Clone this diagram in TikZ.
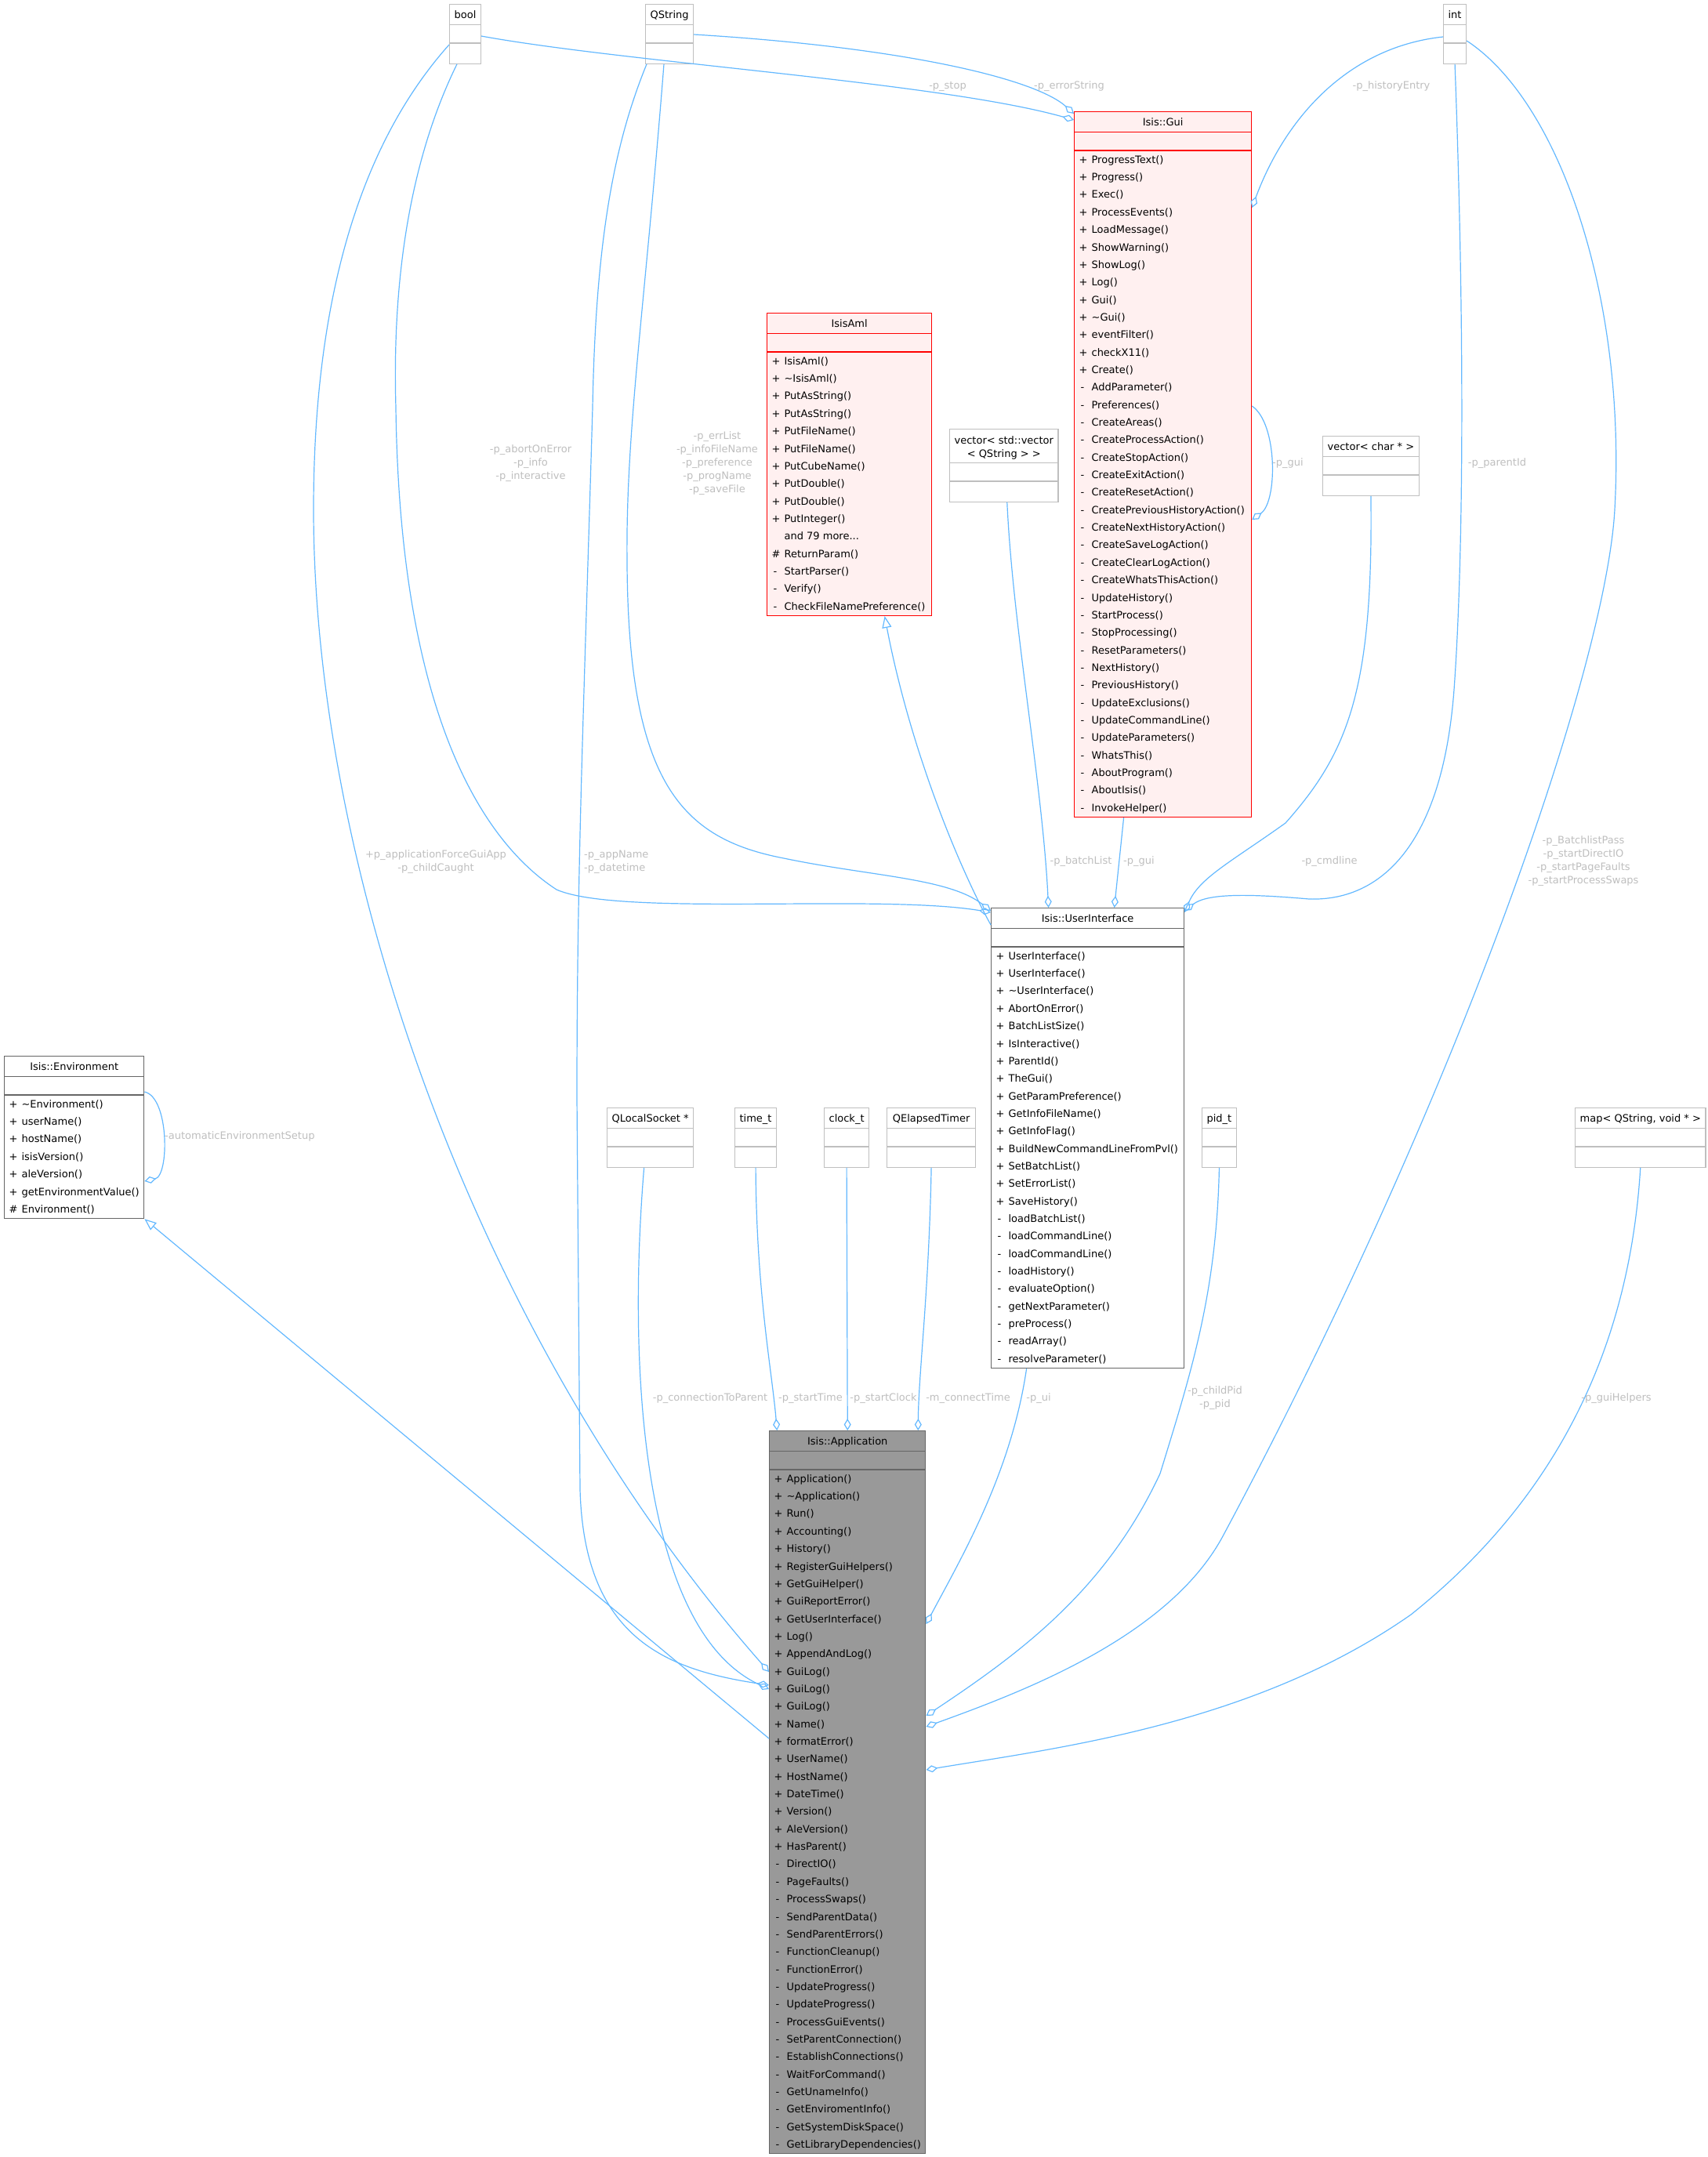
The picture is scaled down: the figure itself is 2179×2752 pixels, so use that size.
\documentclass[tikz,border=0pt]{standalone}
\usepackage{fontspec}
\setmainfont{DejaVu Sans}
\usetikzlibrary{shapes.multipart}
\usetikzlibrary{arrows.meta}

\definecolor{edgeblue}{HTML}{63B8FF}
\definecolor{labelgray}{HTML}{BEBEBE}
\definecolor{typegray}{HTML}{BFBFBF}
\definecolor{boxgray}{HTML}{666666}
\definecolor{redfill}{HTML}{FFF0F0}
\definecolor{appgray}{HTML}{999999}

% member rows: visibility sign, then the name
\newcommand{\mpub}[1]{\makebox[16pt][l]{+}#1}
\newcommand{\mpriv}[1]{\makebox[16pt][l]{\hspace{2pt}-}#1}
\newcommand{\mprot}[1]{\makebox[16pt][l]{\#}#1}
\newcommand{\mnone}[1]{\makebox[16pt][l]{}#1}
\newcommand{\mlist}[1]{\begin{tabular}{@{}l@{}}#1\end{tabular}}
\newcommand{\ctitle}[1]{\rule[-7.75pt]{0pt}{25pt}#1}
\newcommand{\cgap}[1]{\rule{0pt}{#1}}
\newcommand{\emptyparts}{\nodepart{second}\cgap{22pt}\nodepart{third}\cgap{25pt}}

\tikzset{
classbox/.style={ % doxygen class box, three compartments
  rectangle split, rectangle split parts=3,
  rectangle split part align={center,left,left},
  draw=boxgray, fill=white, line width=1.2pt,
  inner xsep=6pt, inner ysep=0pt, anchor=north west,
  font=\fontsize{13}{22.35}\selectfont},
typebox/.style={classbox, draw=typegray,
  rectangle split part align={center,center,center}},
redbox/.style={classbox, draw=red, fill=redfill},
appbox/.style={classbox, fill=appgray},
aggr/.style={draw=edgeblue, line width=1.2pt,
  -{Diamond[open, length=15pt, width=9pt]}},
inherit/.style={draw=edgeblue, line width=1.2pt,
  -{Triangle[open, length=15pt, width=12pt]}},
elabel/.style={text=labelgray, font=\fontsize{13}{17}\selectfont,
  align=center, inner sep=0pt}
}

\begin{document}
\begin{tikzpicture}[x=1pt, y=-1pt]
\useasboundingbox (0,0) rectangle (2179,2752);

% plain types
\node[typebox, minimum width=39pt] (bool) at (573,5) {\ctitle{bool}\emptyparts};
\node[typebox, minimum width=59pt] (qstring) at (823,5) {\ctitle{QString}\emptyparts};
\node[typebox, minimum width=28pt] (int) at (1841,5) {\ctitle{int}\emptyparts};
\node[typebox, minimum width=135pt] (vecvec) at (1211,547)
  {{\fontsize{13}{17}\selectfont\begin{tabular}{@{}c@{}}\rule{0pt}{18pt}vector< std::vector\\
   < QString > >\rule[-7pt]{0pt}{0pt}\end{tabular}}\emptyparts};
\node[typebox, minimum width=121pt] (veccharp) at (1687,556) {\ctitle{vector< char * >}\emptyparts};
\node[typebox, minimum width=108pt] (qsock) at (774,1413) {\ctitle{QLocalSocket *}\emptyparts};
\node[typebox, minimum width=51pt] (timet) at (937,1413) {\ctitle{time\_t}\emptyparts};
\node[typebox, minimum width=56pt] (clockt) at (1051,1413) {\ctitle{clock\_t}\emptyparts};
\node[typebox, minimum width=113pt] (etimer) at (1131,1413) {\ctitle{QElapsedTimer}\emptyparts};
\node[typebox, minimum width=42pt] (pidt) at (1533,1413) {\ctitle{pid\_t}\emptyparts};
\node[typebox, minimum width=163pt] (map) at (2009,1413) {\ctitle{map< QString, void * >}\emptyparts};

% classes
\node[redbox, minimum width=226pt] (gui) at (1370,142) {\ctitle{Isis::Gui}
  \nodepart{second}\cgap{22pt}
  \nodepart{third}\mlist{\mpub{ProgressText()}\\\mpub{Progress()}\\\mpub{Exec()}\\
  \mpub{ProcessEvents()}\\\mpub{LoadMessage()}\\\mpub{ShowWarning()}\\\mpub{ShowLog()}\\
  \mpub{Log()}\\\mpub{Gui()}\\\mpub{\textasciitilde Gui()}\\\mpub{eventFilter()}\\
  \mpub{checkX11()}\\\mpub{Create()}\\\mpriv{AddParameter()}\\\mpriv{Preferences()}\\
  \mpriv{CreateAreas()}\\\mpriv{CreateProcessAction()}\\\mpriv{CreateStopAction()}\\
  \mpriv{CreateExitAction()}\\\mpriv{CreateResetAction()}\\
  \mpriv{CreatePreviousHistoryAction()}\\\mpriv{CreateNextHistoryAction()}\\
  \mpriv{CreateSaveLogAction()}\\\mpriv{CreateClearLogAction()}\\
  \mpriv{CreateWhatsThisAction()}\\\mpriv{UpdateHistory()}\\\mpriv{StartProcess()}\\
  \mpriv{StopProcessing()}\\\mpriv{ResetParameters()}\\\mpriv{NextHistory()}\\
  \mpriv{PreviousHistory()}\\\mpriv{UpdateExclusions()}\\\mpriv{UpdateCommandLine()}\\
  \mpriv{UpdateParameters()}\\\mpriv{WhatsThis()}\\\mpriv{AboutProgram()}\\
  \mpriv{AboutIsis()}\\\mpriv{InvokeHelper()}}};

\node[redbox, minimum width=210pt] (isisaml) at (978,399) {\ctitle{IsisAml}
  \nodepart{second}\cgap{22pt}
  \nodepart{third}\mlist{\mpub{IsisAml()}\\\mpub{\textasciitilde IsisAml()}\\
  \mpub{PutAsString()}\\\mpub{PutAsString()}\\\mpub{PutFileName()}\\\mpub{PutFileName()}\\
  \mpub{PutCubeName()}\\\mpub{PutDouble()}\\\mpub{PutDouble()}\\\mpub{PutInteger()}\\
  \mnone{and 79 more...}\\\mprot{ReturnParam()}\\\mpriv{StartParser()}\\\mpriv{Verify()}\\
  \mpriv{CheckFileNamePreference()}}};

\node[classbox, minimum width=246pt] (ui) at (1264,1158) {\ctitle{Isis::UserInterface}
  \nodepart{second}\cgap{22pt}
  \nodepart{third}\mlist{\mpub{UserInterface()}\\\mpub{UserInterface()}\\
  \mpub{\textasciitilde UserInterface()}\\\mpub{AbortOnError()}\\\mpub{BatchListSize()}\\
  \mpub{IsInteractive()}\\\mpub{ParentId()}\\\mpub{TheGui()}\\\mpub{GetParamPreference()}\\
  \mpub{GetInfoFileName()}\\\mpub{GetInfoFlag()}\\\mpub{BuildNewCommandLineFromPvl()}\\
  \mpub{SetBatchList()}\\\mpub{SetErrorList()}\\\mpub{SaveHistory()}\\
  \mpriv{loadBatchList()}\\\mpriv{loadCommandLine()}\\\mpriv{loadCommandLine()}\\
  \mpriv{loadHistory()}\\\mpriv{evaluateOption()}\\\mpriv{getNextParameter()}\\
  \mpriv{preProcess()}\\\mpriv{readArray()}\\\mpriv{resolveParameter()}}};

\node[classbox, minimum width=177pt] (env) at (5,1347) {\ctitle{Isis::Environment}
  \nodepart{second}\cgap{22pt}
  \nodepart{third}\mlist{\mpub{\textasciitilde Environment()}\\\mpub{userName()}\\
  \mpub{hostName()}\\\mpub{isisVersion()}\\\mpub{aleVersion()}\\
  \mpub{getEnvironmentValue()}\\\mprot{Environment()}}};

\node[appbox, minimum width=197pt] (app) at (981,1825) {\ctitle{Isis::Application}
  \nodepart{second}\cgap{22pt}
  \nodepart{third}\mlist{\mpub{Application()}\\\mpub{\textasciitilde Application()}\\
  \mpub{Run()}\\\mpub{Accounting()}\\\mpub{History()}\\\mpub{RegisterGuiHelpers()}\\
  \mpub{GetGuiHelper()}\\\mpub{GuiReportError()}\\\mpub{GetUserInterface()}\\\mpub{Log()}\\
  \mpub{AppendAndLog()}\\\mpub{GuiLog()}\\\mpub{GuiLog()}\\\mpub{GuiLog()}\\\mpub{Name()}\\
  \mpub{formatError()}\\\mpub{UserName()}\\\mpub{HostName()}\\\mpub{DateTime()}\\
  \mpub{Version()}\\\mpub{AleVersion()}\\\mpub{HasParent()}\\\mpriv{DirectIO()}\\
  \mpriv{PageFaults()}\\\mpriv{ProcessSwaps()}\\\mpriv{SendParentData()}\\
  \mpriv{SendParentErrors()}\\\mpriv{FunctionCleanup()}\\\mpriv{FunctionError()}\\
  \mpriv{UpdateProgress()}\\\mpriv{UpdateProgress()}\\\mpriv{ProcessGuiEvents()}\\
  \mpriv{SetParentConnection()}\\\mpriv{EstablishConnections()}\\\mpriv{WaitForCommand()}\\
  \mpriv{GetUnameInfo()}\\\mpriv{GetEnviromentInfo()}\\\mpriv{GetSystemDiskSpace()}\\
  \mpriv{GetLibraryDependencies()}}};

% edges into Isis::Gui
\draw[aggr] ([yshift=-41pt]bool.north east) .. controls (800,80) and (1200,105) .. ([yshift=-11pt]gui.north west);
\draw[aggr] ([yshift=-39pt]qstring.north east) .. controls (1150,60) and (1320,100) .. ([yshift=-3pt]gui.north west);
\draw[aggr] ([yshift=-42pt]int.north west) .. controls (1720,60) and (1640,150) .. ([yshift=-123pt]gui.north east);
\draw[aggr] ([yshift=-376pt]gui.north east) .. controls (1630,540) and (1630,640) .. ([yshift=-521pt]gui.north east);
\node[elabel] (lstop) at (1209,110) {-p\_stop};
\node[elabel] (lerr) at (1364,110) {-p\_errorString};
\node[elabel] (lhist) at (1775,110) {-p\_historyEntry};
\node[elabel, anchor=west] (lgui) at (1623,591) {-p\_gui};

% edges into Isis::UserInterface
\draw[aggr] ([xshift=10pt]bool.south west) .. controls (525,200) and (500,350) .. (505,520)
  .. controls (510,900) and (610,1070) .. (710,1135)
  .. controls (790,1170) and (1120,1140) .. ([yshift=-6pt]ui.north west);
\draw[aggr] ([xshift=24pt]qstring.south west) .. controls (822,400) and (798,550) .. (800,720)
  .. controls (802,1000) and (870,1070) .. (1000,1095)
  .. controls (1110,1118) and (1210,1120) .. ([yshift=-4pt]ui.north west);
\draw[inherit] ([yshift=-22pt]ui.north west) .. controls (1220,1100) and (1160,950) .. ([xshift=45pt]isisaml.south);
\draw[aggr] ([xshift=4pt]vecvec.south) .. controls (1292,800) and (1330,1000) .. ([xshift=-50pt]ui.north);
\draw[aggr] ([xshift=-50pt]gui.south) -- ([xshift=34pt]ui.north);
\draw[aggr] (veccharp.south) .. controls (1752,880) and (1720,960) .. (1640,1050)
  .. controls (1570,1100) and (1530,1120) .. ([yshift=-6pt]ui.north east);
\draw[aggr] (int.south) .. controls (1868,400) and (1868,700) .. (1855,880)
  .. controls (1840,1080) and (1760,1150) .. (1670,1147)
  .. controls (1590,1140) and (1540,1140) .. ([yshift=-4pt]ui.north east);
\node[elabel] (labort) at (677,591) {-p\_abortOnError\\-p\_info\\-p\_interactive};
\node[elabel] (lerrlist) at (915,591) {-p\_errList\\-p\_infoFileName\\-p\_preference\\-p\_progName\\-p\_saveFile};
\node[elabel] (lbatch) at (1379,1099) {-p\_batchList};
\node[elabel] (lgui2) at (1453,1099) {-p\_gui};
\node[elabel] (lcmd) at (1696,1099) {-p\_cmdline};
\node[elabel] (lparent) at (1910,591) {-p\_parentId};

% Isis::Environment
\draw[aggr] ([yshift=-46pt]env.north east) .. controls (216,1400) and (216,1500) .. ([yshift=-160pt]env.north east);
\node[elabel, anchor=west] (lauto) at (210,1450) {-automaticEnvironmentSetup};
\draw[inherit] ([yshift=-393pt]app.north west) -- (env.south east);

% edges into Isis::Application
\draw[aggr] ([yshift=-52pt]bool.north west) .. controls (490,150) and (400,320) .. (400,650)
  .. controls (400,1100) and (600,1700) .. ([yshift=-308pt]app.north west);
\draw[aggr] ([xshift=2pt]qstring.south west) .. controls (785,180) and (760,300) .. (756,520)
  .. controls (745,900) and (736,1100) .. (736,1400) -- (740,1900)
  .. controls (745,2090) and (850,2130) .. ([yshift=-325pt]app.north west);
\draw[aggr] ([xshift=-8pt]qsock.south) .. controls (800,1750) and (820,2080) .. ([yshift=-330pt]app.north west);
\draw[aggr] (timet.south) .. controls (965,1650) and (985,1750) .. ([xshift=-90pt]app.north);
\draw[aggr] (clockt.south) -- (app.north);
\draw[aggr] (etimer.south) .. controls (1185,1650) and (1172,1750) .. ([xshift=90pt]app.north);
\draw[aggr] ([xshift=-78pt]ui.south) .. controls (1290,1880) and (1225,1990) .. ([yshift=-247pt]app.north east);
\draw[aggr] (pidt.south) .. controls (1552,1650) and (1520,1750) .. (1480,1880)
  .. controls (1410,2030) and (1300,2110) .. ([yshift=-364pt]app.north east);
\draw[aggr] ([yshift=-47pt]int.north east) .. controls (1990,130) and (2075,380) .. (2060,650)
  .. controls (2049,850) and (1860,1400) .. (1560,1960)
  .. controls (1490,2090) and (1300,2160) .. ([yshift=-378pt]app.north east);
\draw[aggr] (map.south) .. controls (2080,1700) and (2000,1900) .. (1800,2060)
  .. controls (1600,2200) and (1350,2230) .. ([yshift=-433pt]app.north east);
\node[elabel] (lforce) at (556,1100) {+p\_applicationForceGuiApp\\-p\_childCaught};
\node[elabel, anchor=west, align=left] (lapp) at (745,1100) {-p\_appName\\-p\_datetime};
\node[elabel] (lsock) at (906,1784) {-p\_connectionToParent};
\node[elabel] (lstime) at (1034,1784) {-p\_startTime};
\node[elabel] (lsclock) at (1127,1784) {-p\_startClock};
\node[elabel] (lconn) at (1235,1784) {-m\_connectTime};
\node[elabel] (lui) at (1325,1784) {-p\_ui};
\node[elabel] (lpid) at (1550,1784) {-p\_childPid\\-p\_pid};
\node[elabel] (lbatchpass) at (2020,1099) {-p\_BatchlistPass\\-p\_startDirectIO\\-p\_startPageFaults\\-p\_startProcessSwaps};
\node[elabel] (lhelpers) at (2062,1784) {-p\_guiHelpers};
\end{tikzpicture}
\end{document}
